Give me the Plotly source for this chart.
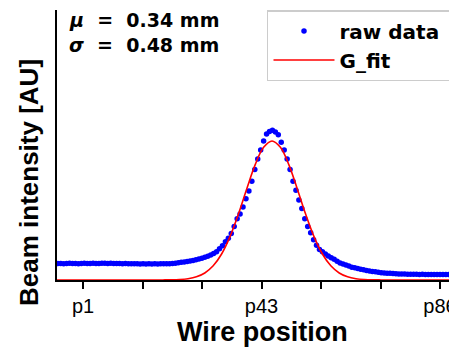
import plotly.graph_objects as go

# ---- data ----
raw_x0 = -5.0      # first wire sample position (axis units, p-scale)
raw_dx = 0.7       # spacing between wire samples
raw_y = [
    0.118, 0.119, 0.117, 0.118, 0.120, 0.119, 0.118, 0.117, 0.119, 0.120,
    0.118, 0.119, 0.120, 0.119, 0.118, 0.120, 0.121, 0.119, 0.120, 0.119,
    0.118, 0.119, 0.117, 0.118, 0.117, 0.116, 0.117, 0.116, 0.115, 0.116,
    0.115, 0.116, 0.115, 0.116, 0.115, 0.116,
    0.116, 0.116, 0.117, 0.119,
    0.121, 0.124, 0.127, 0.130, 0.133, 0.136, 0.141, 0.145, 0.151, 0.156,
    0.163, 0.171, 0.180, 0.190, 0.204, 0.225, 0.246, 0.275, 0.300, 0.335,
    0.385, 0.440, 0.475, 0.525, 0.585, 0.640, 0.710, 0.795, 0.870, 0.935,
    1.000, 1.050, 1.068, 1.077, 1.065, 1.045, 0.990, 0.935, 0.870, 0.795,
    0.711, 0.645, 0.575, 0.515, 0.440, 0.385, 0.340, 0.290, 0.250, 0.220,
    0.203, 0.187, 0.172, 0.160, 0.149, 0.134, 0.122, 0.115, 0.108, 0.100,
    0.092, 0.088, 0.082, 0.078, 0.074, 0.068, 0.065, 0.062, 0.059, 0.056,
    0.053, 0.051, 0.049, 0.048, 0.046, 0.045, 0.044, 0.043, 0.043, 0.042,
    0.042, 0.041, 0.041, 0.040, 0.041, 0.040, 0.040, 0.039, 0.040, 0.040,
    0.039, 0.040, 0.040, 0.039,
]

fit_x = [-5.2, 18, 20, 22, 24, 26, 28, 30, 32, 34, 36, 38, 40, 42, 44, 46,
         48, 50, 52, 54, 56, 58, 60, 62, 64, 66, 68, 70, 72, 74, 88.2]
fit_y = [0.0, 0.0001, 0.0004, 0.0012, 0.0036, 0.0094, 0.0229, 0.0506, 0.102,
         0.187, 0.312, 0.474, 0.657, 0.830, 0.954, 1.000, 0.954, 0.830, 0.657,
         0.474, 0.312, 0.187, 0.102, 0.0506, 0.0229, 0.0094, 0.0036, 0.0012,
         0.0004, 0.0001, 0.0]

tick_vals = [1, 15.17, 29.33, 43.5, 57.67, 71.83, 86]
tick_text = ["p1", "", "", "p43", "", "", "p86"]

mu_text = "<b><i>μ</i>  =  0.34 mm</b>"
sigma_text = "<b><i>σ</i>  =  0.48 mm</b>"

pad = "\u00a0" * 6

fig = go.Figure()
fig.add_trace(go.Scatter(
    x0=raw_x0, dx=raw_dx, y=raw_y, mode="markers", name="<b>raw data</b>" + pad,
    marker=dict(color="#0000ff", size=5.5, line=dict(width=0)),
))
fig.add_trace(go.Scatter(
    x=fit_x, y=fit_y, mode="lines", name="<b>G_fit</b>",
    line=dict(color="#ff0000", width=1.6, shape="spline"),
))

fig.update_layout(
    width=449, height=348,
    margin=dict(l=57, r=0, t=10, b=68, autoexpand=False),
    paper_bgcolor="white", plot_bgcolor="white",
    showlegend=True,
    legend=dict(
        x=0.5357, y=1.0, xanchor="left", yanchor="top",
        bordercolor="#cccccc", borderwidth=1.5, bgcolor="white",
        font=dict(family="DejaVu Sans", size=20, color="black"),
        itemwidth=61, tracegroupgap=0,
    ),
    xaxis=dict(
        range=[-5.19, 88.14], showgrid=False, zeroline=False,
        showline=True, linecolor="black", linewidth=2,
        ticks="outside", ticklen=7, tickwidth=1.5, tickcolor="black",
        tickvals=tick_vals, ticktext=tick_text, ticklabeloverflow="allow",
        tickfont=dict(family="Liberation Sans", size=20, color="black"),
        layer="above traces",
    ),
    yaxis=dict(
        range=[0, 1.942], showgrid=False, zeroline=False,
        showline=True, linecolor="black", linewidth=2,
        showticklabels=False, ticks="",
        layer="above traces",
    ),
    annotations=[
        dict(text="<b>Wire position</b>", xref="paper", yref="paper",
             x=(262 - 57) / 392, y=-(332 - 280) / 270, xanchor="center", yanchor="middle",
             showarrow=False, font=dict(family="Liberation Sans", size=27, color="black")),
        dict(text="<b>Beam intensity [AU]</b>", xref="paper", yref="paper",
             x=-(57 - 29) / 392, y=(280 - 183) / 270, xanchor="center", yanchor="middle",
             textangle=-90, showarrow=False,
             font=dict(family="Liberation Sans", size=26, color="black")),
        dict(text=mu_text, xref="paper", yref="paper",
             x=(67 - 57) / 392, y=(280 - 20) / 270, xanchor="left", yanchor="middle",
             showarrow=False, font=dict(family="DejaVu Sans", size=19, color="black")),
        dict(text=sigma_text, xref="paper", yref="paper",
             x=(67 - 57) / 392, y=(280 - 45) / 270, xanchor="left", yanchor="middle",
             showarrow=False, font=dict(family="DejaVu Sans", size=19, color="black")),
    ],
)

fig.write_html("out.html")
